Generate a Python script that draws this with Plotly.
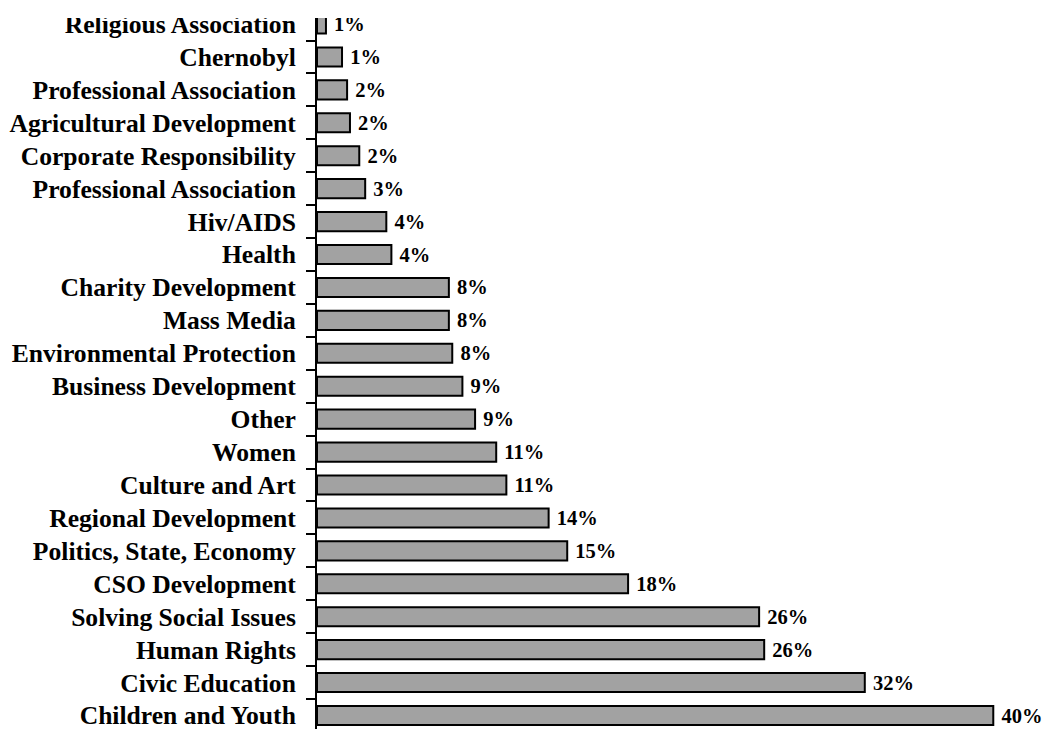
import plotly.graph_objects as go

# Categories from bottom to top
categories = [
    "Children and Youth", "Civic Education", "Human Rights", "Solving Social Issues",
    "CSO Development", "Politics, State, Economy", "Regional Development", "Culture and Art",
    "Women", "Other", "Business Development", "Environmental Protection", "Mass Media",
    "Charity Development", "Health", "Hiv/AIDS", "Professional Association",
    "Corporate Responsibility", "Agricultural Development", "Professional Association",
    "Chernobyl", "Religious Association",
]
values = [40.0, 32.4, 26.45, 26.15, 18.4, 14.8, 13.7, 11.2, 10.6, 9.35, 8.6, 8.0, 7.8,
          7.8, 4.4, 4.1, 2.85, 2.5, 1.95, 1.78, 1.48, 0.53]
value_labels = ["40%", "32%", "26%", "26%", "18%", "15%", "14%", "11%", "11%", "9%", "9%",
                "8%", "8%", "8%", "4%", "4%", "3%", "2%", "2%", "2%", "1%", "1%"]

positions = list(range(len(categories)))
boundaries = [p - 0.5 for p in positions] + [positions[-1] + 0.5]

serif = "Liberation Serif, Times New Roman, serif"

fig = go.Figure(
    go.Bar(
        x=values,
        y=positions,
        orientation="h",
        text=value_labels,
        texttemplate="\u00a0%{text}",
        textposition="outside",
        cliponaxis=False,
        constraintext="none",
        textfont=dict(family=serif, size=20.5, color="black", weight="bold"),
        outsidetextfont=dict(family=serif, size=20.5, color="black", weight="bold"),
        marker=dict(color="#a2a2a2", line=dict(color="black", width=2)),
        hoverinfo="skip",
    )
)

fig.update_layout(
    width=1044,
    height=729,
    margin=dict(l=317, r=0, t=0, b=0),
    plot_bgcolor="white",
    paper_bgcolor="white",
    bargap=0.42,
    showlegend=False,
    xaxis=dict(visible=False, range=[0, 43.0]),
    yaxis=dict(
        range=[-0.41, 21.73],
        tickmode="array",
        tickvals=positions,
        ticktext=categories,
        ticks="",
        showline=True,
        linecolor="black",
        linewidth=2,
        showgrid=False,
        zeroline=False,
        automargin=False,
        ticklabeloverflow="allow",
        ticklabelstandoff=14,
        tickfont=dict(family=serif, size=25.6, color="black", weight="bold"),
        minor=dict(
            tickmode="array",
            tickvals=boundaries,
            ticks="outside",
            ticklen=9,
            tickwidth=2,
            tickcolor="black",
            showgrid=False,
        ),
    ),
    # white band at the very top, where the original picture is cut off
    annotations=[
        dict(xref="paper", yref="paper", x=-317 / 727, y=1, xanchor="left", yanchor="top",
             text="\u00a0", showarrow=False, bgcolor="white", borderpad=0, borderwidth=0,
             font=dict(size=10), width=1044, height=18),
    ],
)

fig.write_html("out.html")
